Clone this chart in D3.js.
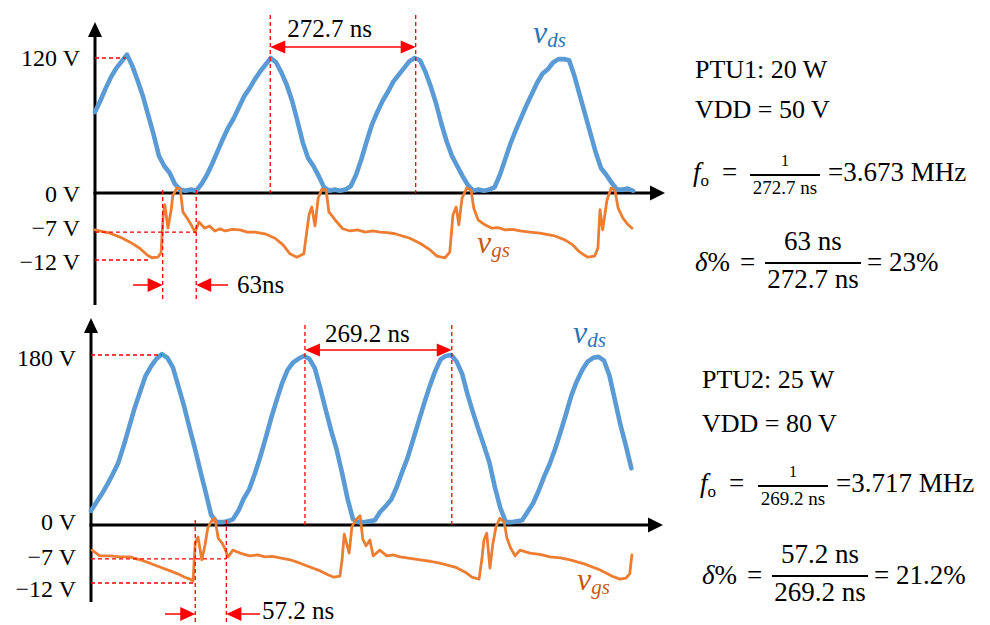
<!DOCTYPE html>
<html><head><meta charset="utf-8">
<script src="https://cdn.jsdelivr.net/npm/d3@7"></script>
<style>
body{margin:0;background:#fff}
svg{display:block}
</style>
</head><body>
<svg id="c" width="990" height="625" font-family="'Liberation Serif', 'DejaVu Serif', serif"></svg>
<script>
// ---------------- DATA ----------------
const timeStep = 10; // ns between v_ds samples
// PTU1 (top) v_ds samples, volts, t = 0,10,20,... ns
const vdsTop = [72,82,93,103,111,117,123,113,100,86,69,52,33,24,18,8,3,2,3,2,8,16,26,37,48,58,66,76,86,93,101,108,114,120,116,107,96,82,64,45,31,24,15,5,2,3,2,3,6,16,30,46,61,72,82,90,99,105,111,117,120,118,108,95,80,62,46,33,24,15,7,2,3,2,3,5,16,30,44,56,67,78,88,98,106,110,116,119,119,118,104,87,70,53,36,22,16,9,3,3,4,2];
// PTU1 v_gs (time ns, volts)
const vgsTopT = [0,14,28,47,66,84,98,107,118,124,128,131,137,143,146,154,160,165,173,180,188,195,206,215,225,235,244,258,272,286,300,319,338,353,366,379,392,398,402,407,413,419,426,434,439,445,454,465,479,493,507,521,535,549,563,591,610,629,642,657,666,672,678,683,689,698,706,711,719,732,745,757,770,784,798,816,835,863,882,897,910,925,938,944,948,953,961,969,976,982,991,1000,1008];
const vgsTopV = [-6.6,-6.9,-7.2,-7.9,-8.8,-9.9,-11.1,-11.6,-11.5,-10.7,-3.9,-2.1,-6.3,-3.0,-0.5,0.9,0.7,-3.4,-4.5,-5.6,-7.0,-5.2,-6.3,-5.9,-6.8,-6.4,-6.8,-6.5,-6.6,-7.0,-7.0,-7.3,-8.1,-9.3,-10.9,-11.5,-10.9,-6.6,-3.8,-2.5,-5.9,-0.9,0.7,0.5,-3.4,-4.1,-5.2,-6.4,-6.8,-6.6,-7.0,-6.8,-7.0,-7.1,-7.3,-8.1,-9.0,-10.2,-11.3,-11.6,-10.6,-3.9,-2.5,-5.7,-0.9,0.9,0.5,-2.7,-4.8,-5.7,-6.3,-6.2,-6.6,-6.5,-6.8,-7.0,-7.2,-7.7,-8.4,-9.3,-10.6,-11.5,-11.3,-9.9,-3.0,-6.6,-1.3,0.9,0.5,-2.7,-4.5,-5.6,-6.3];
// PTU2 (bottom) v_ds samples, volts, t = 0,10,20,... ns
const vdsBot = [15,24,33,43,54,66,84,104,124,141,158,168,176,181,177,167,147,127,104,82,58,35,11,3,3,4,6,15,28,38,54,72,92,113,132,150,164,172,176,179,176,166,145,122,100,80,55,28,6,3,3,4,5,14,20,27,40,56,71,90,109,128,146,162,175,179,180,173,160,138,119,101,84,66,40,18,3,3,4,5,14,23,36,51,64,80,98,117,137,152,164,173,177,178,174,158,132,106,84,60];
// PTU2 v_gs (time ns, volts)
const vgsBotT = [2,16,35,53,71,90,108,126,145,159,172,181,187,191,196,203,209,214,222,227,233,240,245,251,260,273,291,305,319,332,346,365,383,401,420,434,445,456,460,464,469,473,478,485,493,498,504,511,517,529,542,554,566,585,603,621,639,667,685,698,711,716,720,725,731,736,742,749,757,762,769,777,786,804,822,841,860,878,905,933,955,969,980,987,991];
const vgsBotV = [-5.2,-6.4,-6.4,-6.6,-6.6,-7.2,-7.9,-8.7,-9.5,-10.1,-10.8,-11.2,-11.6,-3.7,-2.5,-7.2,-4.1,-0.6,1.0,1.4,-2.7,-3.7,-4.8,-6.6,-5.2,-5.8,-6.4,-6.2,-6.6,-6.5,-6.8,-7.2,-7.9,-8.7,-9.5,-10.3,-10.8,-10.6,-7.2,-1.9,-4.1,-5.8,-0.4,1.0,1.9,-2.9,-4.3,-3.1,-6.4,-5.2,-6.4,-6.2,-6.6,-6.9,-7.2,-7.5,-7.9,-8.7,-9.7,-10.8,-11.2,-7.2,-3.1,-1.7,-8.9,-4.1,-0.4,1.4,0.6,-2.7,-4.8,-6.4,-5.2,-5.8,-6.1,-6.6,-6.8,-7.2,-8.1,-9.3,-10.6,-11.2,-11.0,-10.1,-6.2];
// tick values / annotations
const vdsTicksTop = [0, 120];
const vdsTicksBot = [0, 180];
const vgsTicks = [-7, -12];
const periodTop = [329, 602];   // ns  (272.7 ns)
const deadTop = [127, 190];     // ns  (63 ns)
const peakTopT = 58, minTopT = 105;
const periodBot = [392, 661];   // ns  (269.2 ns)
const deadBot = [191, 248];     // ns  (57.2 ns)
const peakBotT = 130, minBotT = 191;
const labelsTop = {period:"272.7 ns", dead:"63ns"};
const labelsBot = {period:"269.2 ns", dead:"57.2 ns"};
const infoTop = {ptu:"PTU1: 20 W", vdd:"VDD = 50 V", T:"272.7 ns", f:"=3.673 MHz", dt:"63 ns", duty:"= 23%"};
const infoBot = {ptu:"PTU2: 25 W", vdd:"VDD = 80 V", T:"269.2 ns", f:"=3.717 MHz", dt:"57.2 ns", duty:"= 21.2%"};

// ---------------- LAYOUT ----------------
const BLUE = "#5b9bd5", ORANGE = "#ed7d31", RED = "#ff0000";
const FONT = "'Liberation Serif', 'DejaVu Serif', serif";
const svg = d3.select("#c");

function tri(g, tx, ty, dx, dy, len, half, color) {
  const bx = tx - dx*len, by = ty - dy*len;
  const px = -dy*half, py = dx*half;
  g.append("path").attr("d", `M${tx},${ty}L${bx+px},${by+py}L${bx-px},${by-py}Z`).attr("fill", color);
}

function panel(cfg, d) {
  const x = d3.scaleLinear().domain([0, cfg.tMax]).range([cfg.x0, cfg.x1]);
  const yV = d3.scaleLinear().domain([0, d.vTicks[1]]).range([cfg.y0, cfg.yVmax]);
  const yG = d3.scaleLinear().domain([-12, 0]).range([cfg.yNeg, cfg.y0]);
  const g = svg.append("g").attr("font-family", FONT);

  // axes
  g.append("line").attr("x1", x(0)).attr("x2", x(0)).attr("y1", cfg.axisBottom).attr("y2", cfg.axisTop+10)
    .attr("stroke","#000").attr("stroke-width",3);
  tri(g, x(0), cfg.axisTop, 0, -1, 15, 7, "#000");
  g.append("line").attr("x1", x(0)-1.5).attr("x2", cfg.x1-10).attr("y1", yV(0)).attr("y2", yV(0))
    .attr("stroke","#000").attr("stroke-width",3);
  tri(g, cfg.x1, yV(0), 1, 0, 15, 7.5, "#000");

  // tick labels
  d.vTicks.forEach(v => {
    g.append("text").attr("x", cfg.labelX).attr("y", yV(v) + (cfg.nudge[v]||0)).attr("dy","0.35em")
      .attr("text-anchor","end").attr("font-size",24).text(v + " V");
  });
  vgsTicks.forEach(v => {
    g.append("text").attr("x", cfg.labelX).attr("y", yG(v) + (cfg.nudge[v]||0)).attr("dy","0.35em")
      .attr("text-anchor","end").attr("font-size",24).text("\u2212" + Math.abs(v) + " V");
  });

  // traces
  const lineV = d3.line().x((v,i) => x(i*timeStep)).y(v => yV(v));
  g.append("path").attr("d", lineV(d.vds)).attr("fill","none").attr("stroke",BLUE)
    .attr("stroke-width",4.6).attr("stroke-linejoin","round").attr("stroke-linecap","round");
  const lineG = d3.line().x(p => x(p[0])).y(p => yG(p[1]));
  g.append("path").attr("d", lineG(d3.zip(d.gT, d.gV))).attr("fill","none").attr("stroke",ORANGE)
    .attr("stroke-width",2.8).attr("stroke-linejoin","round").attr("stroke-linecap","round");

  // red annotations
  const dash = sel => sel.attr("stroke",RED).attr("stroke-width",1.3).attr("stroke-dasharray","4,3");
  const hl = (x1,x2,y) => dash(g.append("line").attr("x1",x1).attr("x2",x2).attr("y1",y).attr("y2",y));
  const vl = (xx,y1,y2) => dash(g.append("line").attr("x1",xx).attr("x2",xx).attr("y1",y1).attr("y2",y2));
  hl(x(0), x(d.peakT), yV(d.vTicks[1]));
  hl(x(0), x(d.dead[1]), yG(-7));
  hl(x(0), x(d.minT), yG(-12));
  vl(x(d.period[0]), cfg.perTop, yV(0));
  vl(x(d.period[1]), cfg.perTop, yV(0));
  vl(x(d.dead[0]), cfg.deadY1, cfg.deadY2);
  vl(x(d.dead[1]), cfg.deadY1, cfg.deadY2);

  // period arrow
  g.append("line").attr("x1", x(d.period[0])+10).attr("x2", x(d.period[1])-10)
    .attr("y1", cfg.perArrowY).attr("y2", cfg.perArrowY).attr("stroke",RED).attr("stroke-width",1.5);
  tri(g, x(d.period[0]), cfg.perArrowY, -1, 0, 15, 6.5, RED);
  tri(g, x(d.period[1]), cfg.perArrowY, 1, 0, 15, 6.5, RED);
  g.append("text").attr("x", x(d.period[0]) + cfg.perTextDx).attr("y", cfg.perTextY)
    .attr("font-size",25).text(d.labels.period);

  // dead-time arrows
  g.append("line").attr("x1", cfg.deadArrowL).attr("x2", x(d.dead[0])-8)
    .attr("y1", cfg.deadArrowY).attr("y2", cfg.deadArrowY).attr("stroke",RED).attr("stroke-width",1.5);
  tri(g, x(d.dead[0]), cfg.deadArrowY, 1, 0, 15, 7, RED);
  g.append("line").attr("x1", x(d.dead[1])+8).attr("x2", cfg.deadArrowR)
    .attr("y1", cfg.deadArrowY).attr("y2", cfg.deadArrowY).attr("stroke",RED).attr("stroke-width",1.5);
  tri(g, x(d.dead[1]), cfg.deadArrowY, -1, 0, 15, 7, RED);
  g.append("text").attr("x", cfg.deadTextX).attr("y", cfg.deadTextY).attr("font-size",25).text(d.labels.dead);

  // series labels
  const lab = (lx, ly, sub, color) => {
    const t = g.append("text").attr("x", lx).attr("y", ly).attr("fill", color).attr("font-style","italic");
    t.append("tspan").attr("font-size",32).text("v");
    t.append("tspan").attr("font-size",21).attr("dy",4).text(sub);
  };
  lab(cfg.vdsLab[0], cfg.vdsLab[1], "ds", "#2e75b6");
  lab(cfg.vgsLab[0], cfg.vgsLab[1], "gs", "#c55a11");

  // info text block
  const I = d.info, ox = cfg.infoX, b = cfg.infoY;
  const T = (xx, yy, s, size, anchor) => g.append("text").attr("x",xx).attr("y",yy).attr("font-size",size)
      .attr("text-anchor", anchor||"start").text(s);
  T(ox, b[0], I.ptu, 26);
  T(ox, b[1], I.vdd, 26);
  const fr = g.append("text").attr("x", ox-2).attr("y", b[2]).attr("font-size",27);
  fr.append("tspan").attr("font-style","italic").text("f");
  fr.append("tspan").attr("font-size",17).attr("dy",5).text("o");
  T(ox+27, b[2], "=", 27);
  const fc = ox + cfg.fFracC;
  T(fc, b[2]-15, "1", 16, "middle");
  g.append("line").attr("x1", fc-35).attr("x2", fc+35).attr("y1", b[2]-6).attr("y2", b[2]-6)
    .attr("stroke","#000").attr("stroke-width",1.8);
  T(fc, b[2]+13, I.T, 19, "middle");
  T(fc+43, b[2], I.f, 27);
  const dr = g.append("text").attr("x", ox).attr("y", b[3]).attr("font-size",27);
  dr.append("tspan").attr("font-style","italic").text("\u03b4");
  dr.append("tspan").text("%");
  T(ox+45, b[3], "=", 27);
  const dc = ox + cfg.dFracC;
  T(dc, b[3]-21, I.dt, 27, "middle");
  g.append("line").attr("x1", dc-cfg.dFracW).attr("x2", dc+cfg.dFracW).attr("y1", b[3]-8).attr("y2", b[3]-8)
    .attr("stroke","#000").attr("stroke-width",2);
  T(dc, b[3]+17, I.T, 27, "middle");
  T(dc+cfg.dFracW+6, b[3], I.duty, 27);
}

panel({x0:95, x1:665, tMax:1070, y0:193, yVmax:58, yNeg:260, axisTop:22, axisBottom:305, labelX:80,
       nudge:{"0":1, "-7":-4, "-12":2}, perTop:15, perArrowY:47, perTextDx:17, perTextY:37,
       deadY1:190, deadY2:300, deadArrowY:285, deadArrowL:133, deadArrowR:228, deadTextX:237, deadTextY:293,
       vdsLab:[533,43], vgsLab:[477,253], infoX:695, infoY:[78,118,181,271], fFracC:90, dFracC:118, dFracW:48},
      {vTicks:vdsTicksTop, vds:vdsTop, gT:vgsTopT, gV:vgsTopV, period:periodTop, dead:deadTop,
       peakT:peakTopT, minT:minTopT, labels:labelsTop, info:infoTop});

panel({x0:91, x1:663, tMax:1048, y0:525, yVmax:355, yNeg:583, axisTop:318, axisBottom:602, labelX:76,
       nudge:{"180":3, "0":-3, "-7":-2, "-12":6}, perTop:325, perArrowY:350, perTextDx:20, perTextY:342,
       deadY1:520, deadY2:625, deadArrowY:614, deadArrowL:165, deadArrowR:260, deadTextX:262, deadTextY:619,
       vdsLab:[573,343], vgsLab:[577,590], infoX:702, infoY:[388,432,492,584], fFracC:91, dFracC:118, dFracW:48},
      {vTicks:vdsTicksBot, vds:vdsBot, gT:vgsBotT, gV:vgsBotV, period:periodBot, dead:deadBot,
       peakT:peakBotT, minT:minBotT, labels:labelsBot, info:infoBot});
</script>
</body></html>
